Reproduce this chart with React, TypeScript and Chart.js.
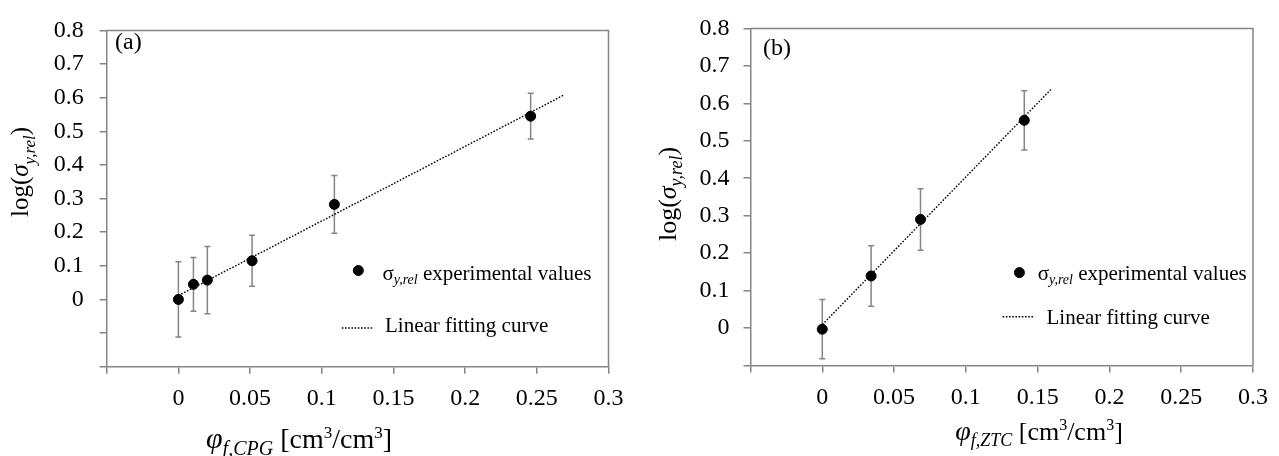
import React, { useEffect, useRef } from "react";
import { Chart, registerables } from "chart.js";

Chart.register(...registerables);

// ---------------- data ----------------
// Panel (a): CPG
const cpgPhi = [0, 0.0105, 0.0202, 0.0514, 0.1088, 0.2457];
const cpgLogSigma = [0, 0.045, 0.0575, 0.115, 0.2826, 0.545];
const cpgErr = [0.112, 0.08, 0.1, 0.076, 0.086, 0.068];
const cpgFitPhi = [0, 0.2685];
const cpgFitLog = [0.0115, 0.607];

// Panel (b): ZTC
const ztcPhi = [0, 0.034, 0.0684, 0.1407];
const ztcLogSigma = [-0.003, 0.139, 0.29, 0.5546];
const ztcErr = [0.079, 0.081, 0.082, 0.079];
const ztcFitPhi = [0, 0.16];
const ztcFitLog = [0.009, 0.64];

const xTickLabelsShown = ["0", "0.05", "0.1", "0.15", "0.2", "0.25", "0.3"];
const legendPointLabel = "experimental values";
const legendLineLabel = "Linear fitting curve";

// ---------------- style ----------------
const SERIF = "'Liberation Serif', 'Times New Roman', Times, serif";
const GREY = "#858585";
const H = 456;

type Seg = { t: string; size: number; italic?: boolean; dy?: number };

function fontOf(s: Seg) {
  return `${s.italic ? "italic " : ""}${s.size}px ${SERIF}`;
}
function richWidth(ctx: CanvasRenderingContext2D, segs: Seg[]) {
  let w = 0;
  for (const s of segs) {
    ctx.font = fontOf(s);
    w += ctx.measureText(s.t).width;
  }
  return w;
}
function drawRich(
  ctx: CanvasRenderingContext2D,
  segs: Seg[],
  x: number,
  baseline: number,
  align: "left" | "center"
) {
  const w = richWidth(ctx, segs);
  let cx = align === "center" ? x - w / 2 : x;
  ctx.textAlign = "left";
  ctx.textBaseline = "alphabetic";
  ctx.fillStyle = "#000";
  for (const s of segs) {
    ctx.font = fontOf(s);
    ctx.fillText(s.t, cx, baseline + (s.dy || 0));
    cx += ctx.measureText(s.t).width;
  }
}

type Panel = {
  width: number;
  offset: number;
  area: { left: number; right: number; top: number; bottom: number };
  yMin: number;
  yPad: number;
  phi: number[];
  logS: number[];
  err: number[];
  fitPhi: number[];
  fitLog: number[];
  tag: string;
  tagPos: [number, number];
  tagSize: number;
  yTitle: { cx: number; cy: number; size: number; sub: number };
  xTitle: { cx: number; cy: number; size: number; sub: number; subText: string };
  legend: {
    dot: [number, number];
    lineX: [number, number];
    lineY: number;
    text1: [number, number];
    text2: [number, number];
  };
};

const panels: Panel[] = [
  {
    width: 640,
    offset: 0,
    area: { left: 106.7, right: 608.5, top: 19, bottom: 366.7 },
    yMin: -0.2,
    yPad: 16,
    phi: cpgPhi,
    logS: cpgLogSigma,
    err: cpgErr,
    fitPhi: cpgFitPhi,
    fitLog: cpgFitLog,
    tag: "(a)",
    tagPos: [115, 43],
    tagSize: 24,
    yTitle: { cx: 20, cy: 172, size: 25, sub: 17 },
    xTitle: { cx: 299, cy: 439, size: 28, sub: 20, subText: "f,CPG" },
    legend: {
      dot: [0.1255, 0.086],
      lineX: [0.114, 0.136],
      lineY: -0.085,
      text1: [0.1423, 0.078],
      text2: [0.1441, -0.0747],
    },
  },
  {
    width: 639,
    offset: 640,
    area: { left: 110.5, right: 613.5, top: 20, bottom: 365.5 },
    yMin: -0.1,
    yPad: 14,
    phi: ztcPhi,
    logS: ztcLogSigma,
    err: ztcErr,
    fitPhi: ztcFitPhi,
    fitLog: ztcFitLog,
    tag: "(b)",
    tagPos: [123, 49],
    tagSize: 24,
    yTitle: { cx: 27, cy: 194, size: 26, sub: 18 },
    xTitle: { cx: 399, cy: 431, size: 26, sub: 18, subText: "f,ZTC" },
    legend: {
      dot: [0.1373, 0.148],
      lineX: [0.1256, 0.1477],
      lineY: 0.03,
      text1: [0.15, 0.148],
      text2: [0.1562, 0.0305],
    },
  },
];

function makeChart(canvas: HTMLCanvasElement, p: Panel) {
  const fitData = p.fitPhi.map((x, i) => ({ x, y: p.fitLog[i] }));
  const pts = p.phi.map((x, i) => ({ x, y: p.logS[i] }));

  const decorPlugin = {
    id: "decor" + p.tag,
    beforeDatasetsDraw(chart: any) {
      const ctx = chart.ctx as CanvasRenderingContext2D;
      const xs = chart.scales.x;
      const ys = chart.scales.y;
      ctx.save();
      ctx.strokeStyle = GREY;
      ctx.lineWidth = 1.5;
      p.phi.forEach((x, i) => {
        const px = xs.getPixelForValue(x);
        const top = ys.getPixelForValue(p.logS[i] + p.err[i]);
        const bot = ys.getPixelForValue(p.logS[i] - p.err[i]);
        ctx.beginPath();
        ctx.moveTo(px, top);
        ctx.lineTo(px, bot);
        ctx.moveTo(px - 3, top);
        ctx.lineTo(px + 3, top);
        ctx.moveTo(px - 3, bot);
        ctx.lineTo(px + 3, bot);
        ctx.stroke();
      });
      ctx.restore();
    },
    afterDraw(chart: any) {
      const ctx = chart.ctx as CanvasRenderingContext2D;
      const a = chart.chartArea;
      const xs = chart.scales.x;
      const ys = chart.scales.y;
      ctx.save();
      // frame top/right
      ctx.strokeStyle = GREY;
      ctx.lineWidth = 1.5;
      ctx.beginPath();
      ctx.moveTo(a.left, a.top);
      ctx.lineTo(a.right, a.top);
      ctx.lineTo(a.right, a.bottom);
      ctx.stroke();

      // panel tag
      ctx.fillStyle = "#000";
      ctx.font = `${p.tagSize}px ${SERIF}`;
      ctx.textAlign = "left";
      ctx.textBaseline = "middle";
      ctx.fillText(p.tag, p.tagPos[0], p.tagPos[1]);

      // legend texts
      const l1x = xs.getPixelForValue(p.legend.text1[0]);
      const l1y = ys.getPixelForValue(p.legend.text1[1]);
      drawRich(
        ctx,
        [
          { t: "σ", size: 21 },
          { t: "y,rel", size: 14, italic: true, dy: 4 },
          { t: " " + legendPointLabel, size: 21 },
        ],
        l1x,
        l1y + 7,
        "left"
      );
      const l2x = xs.getPixelForValue(p.legend.text2[0]);
      const l2y = ys.getPixelForValue(p.legend.text2[1]);
      drawRich(ctx, [{ t: legendLineLabel, size: 21 }], l2x, l2y + 7, "left");

      // y title (rotated)
      const yt = p.yTitle;
      ctx.save();
      ctx.translate(yt.cx, yt.cy);
      ctx.rotate(-Math.PI / 2);
      drawRich(
        ctx,
        [
          { t: "log(", size: yt.size },
          { t: "σ", size: yt.size, italic: true },
          { t: "y,rel", size: yt.sub, italic: true, dy: yt.size * 0.25 },
          { t: ")", size: yt.size },
        ],
        0,
        yt.size * 0.33,
        "center"
      );
      ctx.restore();

      // x title
      const xt = p.xTitle;
      const sup = Math.round(xt.size * 0.6);
      drawRich(
        ctx,
        [
          { t: "φ", size: xt.size + 2, italic: true },
          { t: xt.subText, size: xt.sub, italic: true, dy: xt.size * 0.25 },
          { t: " [cm", size: xt.size },
          { t: "3", size: sup, dy: -xt.size * 0.38 },
          { t: "/cm", size: xt.size },
          { t: "3", size: sup, dy: -xt.size * 0.38 },
          { t: "]", size: xt.size },
        ],
        xt.cx,
        xt.cy + xt.size * 0.33,
        "center"
      );
      ctx.restore();
    },
  };

  const tickFont = { family: SERIF, size: 24 };

  return new Chart(canvas, {
    type: "scatter",
    data: {
      datasets: [
        {
          label: "points",
          data: pts,
          backgroundColor: "#000",
          borderColor: "#000",
          pointRadius: 5,
          pointHoverRadius: 5,
        },
        {
          label: "legendDot",
          data: [{ x: p.legend.dot[0], y: p.legend.dot[1] }],
          backgroundColor: "#000",
          borderColor: "#000",
          pointRadius: 5,
        },
        {
          label: "fit",
          data: fitData,
          showLine: true,
          borderColor: "#000",
          borderWidth: 1.4,
          borderDash: [1.6, 1.6],
          pointRadius: 0,
          fill: false,
        },
        {
          label: "legendLine",
          data: [
            { x: p.legend.lineX[0], y: p.legend.lineY },
            { x: p.legend.lineX[1], y: p.legend.lineY },
          ],
          showLine: true,
          borderColor: "#000",
          borderWidth: 1.4,
          borderDash: [1.6, 1.6],
          pointRadius: 0,
          fill: false,
        },
      ],
    },
    options: {
      responsive: false,
      animation: false,
      events: [],
      layout: {
        padding: {
          left: 0,
          bottom: 0,
          top: p.area.top,
          right: p.width - p.area.right,
        },
      },
      plugins: {
        legend: { display: false },
        tooltip: { enabled: false },
        title: { display: false },
      },
      scales: {
        x: {
          type: "linear",
          min: -0.05,
          max: 0.3,
          afterFit: (s: any) => {
            s.height = H - p.area.bottom;
          },
          ticks: {
            stepSize: 0.05,
            autoSkip: false,
            maxRotation: 0,
            minRotation: 0,
            padding: 11,
            color: "#000",
            font: tickFont,
            callback: (v: any) => {
              const n = parseFloat(Number(v).toFixed(2));
              if (n < 0) return "";
              const s = String(n === 0 ? 0 : n);
              return xTickLabelsShown.includes(s) ? s : "";
            },
          },
          grid: {
            drawOnChartArea: false,
            drawTicks: true,
            tickLength: 7,
            color: GREY,
            lineWidth: 1.5,
          },
          border: { display: true, color: GREY, width: 1.5 },
        },
        y: {
          type: "linear",
          min: p.yMin,
          max: 0.8,
          afterFit: (s: any) => {
            s.width = p.area.left;
          },
          ticks: {
            stepSize: 0.1,
            autoSkip: false,
            padding: p.yPad,
            color: "#000",
            font: tickFont,
            callback: (v: any) => {
              const n = Math.round(Number(v) * 10) / 10;
              if (n < 0) return "";
              return String(n === 0 ? 0 : n);
            },
          },
          grid: {
            drawOnChartArea: false,
            drawTicks: true,
            tickLength: 7,
            color: GREY,
            lineWidth: 1.5,
          },
          border: { display: true, color: GREY, width: 1.5 },
        },
      },
    },
    plugins: [decorPlugin],
  } as any);
}

function PanelChart({ p }: { p: Panel }) {
  const ref = useRef<HTMLCanvasElement | null>(null);
  useEffect(() => {
    if (!ref.current) return;
    const c = makeChart(ref.current, p);
    return () => c.destroy();
  }, [p]);
  return (
    <canvas
      ref={ref}
      width={p.width}
      height={H}
      style={{ position: "absolute", left: p.offset, top: 0, width: p.width, height: H }}
    />
  );
}

export default function App() {
  return (
    <div
      style={{
        position: "fixed",
        left: 0,
        top: 0,
        width: 1279,
        height: H,
        background: "#fff",
        overflow: "hidden",
      }}
    >
      {panels.map((p) => (
        <PanelChart key={p.tag} p={p} />
      ))}
    </div>
  );
}
